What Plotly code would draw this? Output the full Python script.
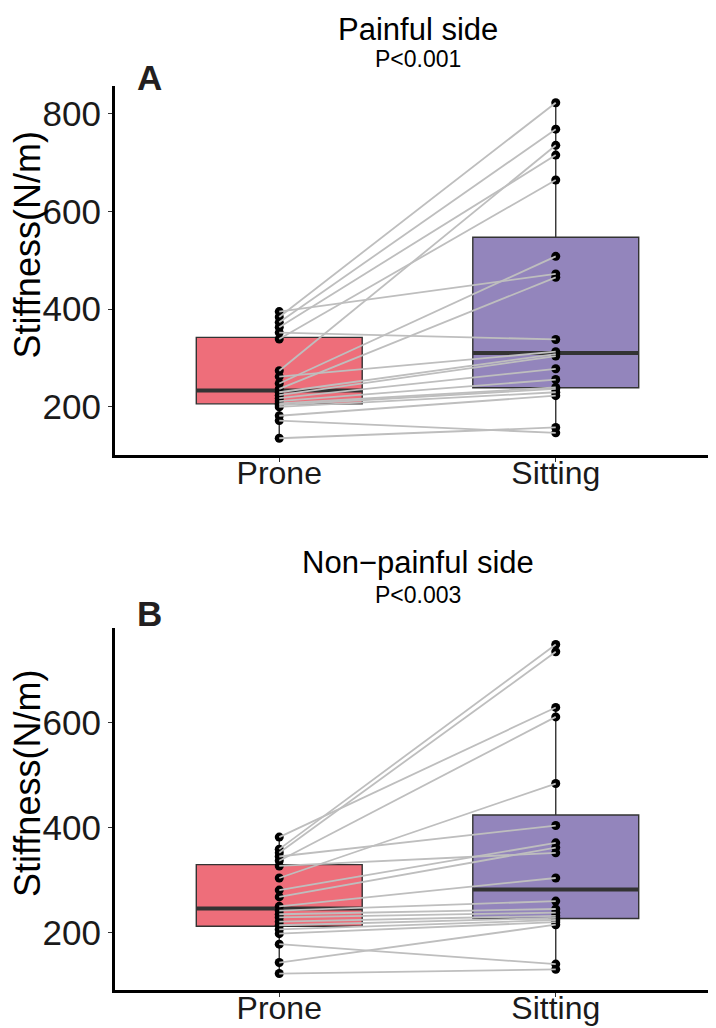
import numpy as np
import plotly.graph_objects as go

W, H = 716, 1028
categories = ["Prone", "Sitting"]

# Panel A: painful side (paired values per subject)
painful_prone = [395, 384, 373, 363, 352, 339, 274, 262, 248, 237,
                 230, 224, 218, 212, 207, 204, 200, 182, 172, 136]
painful_sitting = [472, 822, 768, 715, 338, 664, 735, 313, 508, 465,
                   308, 304, 278, 256, 240, 237, 230, 223, 147, 158]

# Panel B: non-painful side
nonpainful_prone = [359, 352, 382, 337, 304, 345, 327, 281, 268, 250,
                    242, 235, 229, 221, 214, 206, 198, 178, 143, 122]
nonpainful_sitting = [749, 735, 629, 611, 484, 404, 352, 371, 362, 304,
                      260, 245, 238, 232, 228, 224, 220, 140, 215, 130]

titles = ["Painful side", "Non\u2212painful side"]
pvals = ["P<0.001", "P<0.003"]
letters = ["A", "B"]
yticks = [[200, 400, 600, 800], [200, 400, 600]]

colors = ["#EE6E7A", "#9385BC"]
FONT = "Liberation Sans, Arial, sans-serif"

# panel pixel boxes (top, bottom) and x extent
x_left, x_right = 107, 712
panels_px = [(78, 447), (620, 982)]
title_px = [21, 554]
p_px = [51, 587]
letter_px = [70, 605]

def py(p):
    return 1 - p / H

def px(p):
    return p / W

fig = go.Figure()
layout = dict(width=W, height=H, margin=dict(l=0, r=0, t=0, b=0),
              plot_bgcolor="white", paper_bgcolor="white", showlegend=False,
              font=dict(family=FONT, color="black"))
annotations = []

data = [(painful_prone, painful_sitting), (nonpainful_prone, nonpainful_sitting)]
box_w = 0.6
for i, (pr, si) in enumerate(data):
    xa = "x" if i == 0 else "x2"
    ya = "y" if i == 0 else "y2"
    for j, vals in enumerate([pr, si]):
        v = np.array(vals, dtype=float)
        q1, med, q3 = np.percentile(v, [25, 50, 75])
        iqr = q3 - q1
        lo = v[v >= q1 - 1.5 * iqr].min()
        hi = v[v <= q3 + 1.5 * iqr].max()
        fig.add_trace(go.Box(
            x=[j + 1], q1=[q1], median=[med], q3=[q3], lowerfence=[lo], upperfence=[hi],
            width=box_w, fillcolor=colors[j], line=dict(color="#333333", width=1.4),
            whiskerwidth=0, boxpoints=False, xaxis=xa, yaxis=ya, hoverinfo="skip"))
        # thick median line (ggplot style)
        fig.add_trace(go.Scatter(
            x=[j + 1 - box_w / 2, j + 1 + box_w / 2], y=[med, med], mode="lines",
            line=dict(color="#333333", width=4), xaxis=xa, yaxis=ya, hoverinfo="skip"))
    # points
    fig.add_trace(go.Scatter(
        x=[1] * len(pr) + [2] * len(si), y=list(pr) + list(si), mode="markers",
        marker=dict(color="black", size=9), xaxis=xa, yaxis=ya, hoverinfo="skip"))
    # paired lines
    lx, ly = [], []
    for a, b in zip(pr, si):
        lx += [1, 2, None]
        ly += [a, b, None]
    fig.add_trace(go.Scatter(
        x=lx, y=ly, mode="lines", line=dict(color="#BEBEBE", width=1.8),
        xaxis=xa, yaxis=ya, hoverinfo="skip"))

    allv = np.array(list(pr) + list(si), dtype=float)
    span = allv.max() - allv.min()
    yr = [allv.min() - 0.05 * span, allv.max() + 0.05 * span]

    top, bot = panels_px[i]
    suffix = "" if i == 0 else "2"
    layout["xaxis" + suffix] = dict(
        domain=[px(x_left), px(x_right)], range=[0.406, 2.594], anchor=ya,
        tickmode="array", tickvals=[1, 2], ticktext=categories,
        showline=True, linecolor="black", linewidth=3, ticks="outside",
        ticklen=4, tickwidth=1.4, tickcolor="#333333", showgrid=False, zeroline=False,
        ticklabelstandoff=-16,
        tickfont=dict(size=32, family=FONT, color="#1a1a1a"))
    layout["yaxis" + suffix] = dict(
        domain=[py(bot), py(top)], range=yr, anchor=xa,
        tickmode="array", tickvals=yticks[i], ticktext=[str(t) for t in yticks[i]],
        showline=True, linecolor="black", linewidth=3, ticks="outside",
        ticklen=4, tickwidth=1.4, tickcolor="#333333", showgrid=False, zeroline=False,
        tickfont=dict(size=35, family=FONT, color="#1a1a1a"))

    cx = px((x_left + x_right) / 2)
    annotations.append(dict(text=titles[i], x=cx, y=py(title_px[i]), xref="paper", yref="paper",
                            showarrow=False, font=dict(size=31, family=FONT, color="black"),
                            xanchor="center", yanchor="middle"))
    annotations.append(dict(text=pvals[i], x=cx, y=py(p_px[i]), xref="paper", yref="paper",
                            showarrow=False, font=dict(size=23, family=FONT, color="black"),
                            xanchor="center", yanchor="middle"))
    annotations.append(dict(text="<b>" + letters[i] + "</b>", x=px(141), y=py(letter_px[i]),
                            xref="paper", yref="paper", showarrow=False,
                            font=dict(size=35, family=FONT, color="#231f20"),
                            xanchor="center", yanchor="middle"))
    annotations.append(dict(text="Stiffness(N/m)", x=px(19), y=py((top + bot) / 2 - 25),
                            xref="paper", yref="paper", showarrow=False, textangle=-90,
                            font=dict(size=36, family=FONT, color="black"),
                            xanchor="center", yanchor="middle"))

layout["annotations"] = annotations
fig.update_layout(**layout)
fig.write_html("out.html")
